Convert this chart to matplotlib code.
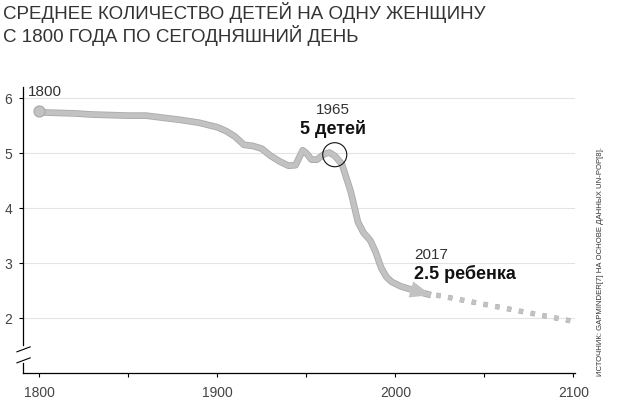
import matplotlib
matplotlib.use("Agg")
import matplotlib.pyplot as plt
import matplotlib.patheffects as pe
from matplotlib.transforms import blended_transform_factory

plt.rcParams['font.family'] = ['Liberation Sans', 'DejaVu Sans']

# ---- data ----
years = [1800, 1810, 1820, 1830, 1840, 1850, 1860, 1870, 1880, 1890, 1900,
         1905, 1910, 1915, 1920, 1925, 1930, 1935, 1940, 1944, 1948, 1950,
         1953, 1956, 1960, 1963, 1966, 1970, 1973, 1975, 1979, 1982, 1986,
         1989, 1992, 1995, 1998, 2003, 2008, 2013, 2020]
fertility = [5.74, 5.73, 5.72, 5.70, 5.69, 5.68, 5.68, 5.64, 5.60, 5.55, 5.47,
             5.40, 5.30, 5.15, 5.13, 5.08, 4.95, 4.85, 4.77, 4.78, 5.05, 5.00,
             4.88, 4.88, 4.98, 5.01, 4.95, 4.80, 4.50, 4.30, 3.75, 3.56, 3.41,
             3.20, 2.92, 2.75, 2.66, 2.58, 2.53, 2.48, 2.42]
proj_years = [2023, 2102]
proj_values = [2.42, 1.93]
start_year, start_value = 1800, 5.76
peak_year, peak_value = 1966, 4.97
yticks = [2, 3, 4, 5, 6]
xticks = [1800, 1900, 2000, 2100]
xminor = [1850, 1950, 2050]

title_lines = ["СРЕДНЕЕ КОЛИЧЕСТВО ДЕТЕЙ НА ОДНУ ЖЕНЩИНУ",
               "С 1800 ГОДА ПО СЕГОДНЯШНИЙ ДЕНЬ"]
source = "ИСТОЧНИК: GAPMINDER[7] НА ОСНОВЕ ДАННЫХ UN-POP[8]."

LINE = '#c2c2c2'
EDGE = '#a9a9a9'
TXT = '#333333'

fig = plt.figure(figsize=(6.17, 3.98), dpi=100)
ax = fig.add_axes([0.0373, 0.0628, 0.8950, 0.7186])
ax.set_xlim(1791, 2101)
ax.set_ylim(1.005, 6.2)

# grid
for v in yticks:
    ax.axhline(v, color='#e3e3e3', lw=0.8, zorder=0)

effects = [pe.Stroke(linewidth=4.8, foreground=EDGE), pe.Normal()]
ax.plot(years, fertility, color=LINE, lw=3.6, solid_joinstyle='round',
        solid_capstyle='butt', path_effects=effects, zorder=3)
ax.plot([start_year], [start_value], 'o', ms=8, color=LINE, mec=EDGE,
        mew=0.8, zorder=4)
ax.annotate('', xy=(years[-1], fertility[-1]), xytext=(years[-3], fertility[-3]),
            arrowprops=dict(arrowstyle='-|>,head_length=1.5,head_width=0.6',
                            color=LINE, lw=0, shrinkA=0, shrinkB=0),
            zorder=4)
ax.plot(proj_years, proj_values, color=LINE, lw=3.2,
        linestyle=(0, (1.0, 1.7)), dash_capstyle='butt', clip_on=False,
        path_effects=[pe.Stroke(linewidth=3.8, foreground=EDGE), pe.Normal()],
        zorder=3)
ax.scatter([peak_year], [peak_value], s=300, facecolors='none',
           edgecolors='#111111', linewidths=0.8, zorder=5)

# annotations
ax.text(1793.8, 6.03, "1800", fontsize=11, color=TXT, ha='left', va='baseline')
ax.text(1965.2, 5.71, "1965", fontsize=11, color=TXT, ha='center', va='baseline')
ax.text(1965.2, 5.35, "5 детей", fontsize=13, fontweight='bold', color='#111111',
        ha='center', va='baseline')
ax.text(2010.7, 3.08, "2017", fontsize=11, color=TXT, ha='left', va='baseline')
ax.text(2010.7, 2.705, "2.5 ребенка", fontsize=13, fontweight='bold',
        color='#111111', ha='left', va='baseline')

# axes styling
for s in ['top', 'right']:
    ax.spines[s].set_visible(False)
ax.spines['left'].set_bounds(1.51, 6.2)
ax.spines['left'].set_linewidth(0.9)
ax.spines['bottom'].set_linewidth(0.9)
tr = blended_transform_factory(ax.transAxes, ax.transData)
ax.plot([0, 0], [1.005, 1.19], transform=tr, color='black', lw=0.9, clip_on=False)
ax.plot([-0.011, 0.013], [1.39, 1.48], transform=tr, color='black', lw=0.8, clip_on=False)
ax.plot([-0.011, 0.013], [1.19, 1.28], transform=tr, color='black', lw=0.8, clip_on=False)

ax.set_yticks(yticks)
ax.set_yticklabels([str(v) for v in yticks])
ax.set_xticks(xticks)
ax.set_xticklabels([str(v) for v in xticks])
ax.set_xticks(xminor, minor=True)
ax.tick_params(axis='both', which='both', length=3, width=0.8, color='black',
               labelsize=10, labelcolor='#444444')
ax.tick_params(axis='y', pad=5)
ax.tick_params(axis='x', pad=6)

# title and source
fig.text(3 / 617, 1 - 19 / 398, title_lines[0], fontsize=13.5, color=TXT,
         ha='left', va='baseline')
fig.text(3 / 617, 1 - 42 / 398, title_lines[1], fontsize=13.5, color=TXT,
         ha='left', va='baseline')
fig.text(600 / 617, 1 - 262 / 398, source, fontsize=5.6, color=TXT, rotation=90,
         ha='center', va='center')

fig.savefig("out.png", dpi=100)
